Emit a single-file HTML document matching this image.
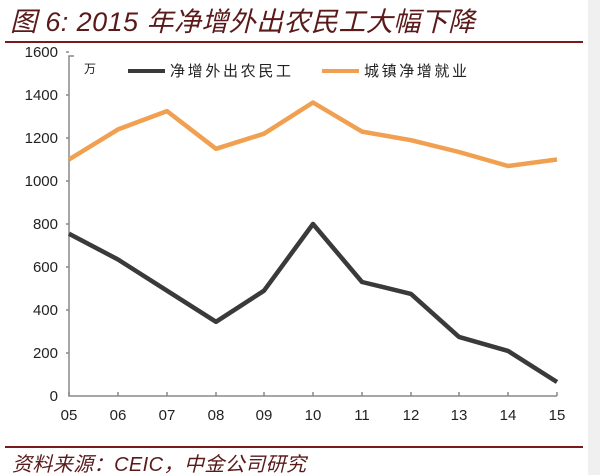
<!DOCTYPE html><html><head><style>body{margin:0;background:#fff}svg{display:block}</style></head><body>
<svg width="600" height="475" xmlns="http://www.w3.org/2000/svg" font-family="Liberation Sans, Noto Sans CJK SC, sans-serif">
<rect width="600" height="475" fill="#fff"/>
<rect x="588" y="0" width="12" height="475" fill="#f0f0f0"/>
<text x="10" y="31" font-size="27" font-style="italic" fill="#5a1a1a" textLength="465">图 6: 2015 年净增外出农民工大幅下降</text>
<line x1="5" y1="42" x2="583" y2="42" stroke="#7a1a1a" stroke-width="2"/>
<line x1="5" y1="447" x2="583" y2="447" stroke="#7a1a1a" stroke-width="2"/>
<text x="12" y="471" font-size="20" font-style="italic" fill="#5a1a1a" textLength="294">资料来源：CEIC，中金公司研究</text>
<g stroke="#888" stroke-width="1.5" fill="none">
<path d="M74 56H69V396H557"/>
<path d="M69 396v-4M118 396v-4M167 396v-4M216 396v-4M264 396v-4M313 396v-4M362 396v-4M411 396v-4M459 396v-4M508 396v-4M557 396v-4"/>
<path d="M69 52h-3M69 95h-3M69 138h-3M69 181h-3M69 224h-3M69 267h-3M69 310h-3M69 353h-3"/>
</g>
<g font-size="15" fill="#222" text-anchor="end">
<text x="58" y="57">1600</text><text x="58" y="100">1400</text><text x="58" y="143">1200</text><text x="58" y="186">1000</text><text x="58" y="229">800</text><text x="58" y="272">600</text><text x="58" y="315">400</text><text x="58" y="358">200</text><text x="58" y="401">0</text>
</g>
<g font-size="15" fill="#222" text-anchor="middle">
<text x="69" y="420">05</text><text x="118" y="420">06</text><text x="167" y="420">07</text><text x="216" y="420">08</text><text x="264" y="420">09</text><text x="313" y="420">10</text><text x="362" y="420">11</text><text x="411" y="420">12</text><text x="459" y="420">13</text><text x="508" y="420">14</text><text x="557" y="420">15</text>
</g>
<text x="84" y="73" font-size="12" fill="#222">万</text>
<line x1="128" y1="71" x2="165" y2="71" stroke="#3a3a3a" stroke-width="4"/>
<text x="170" y="76" font-size="15" fill="#222" textLength="121">净增外出农民工</text>
<line x1="322" y1="71" x2="359" y2="71" stroke="#f0a050" stroke-width="4"/>
<text x="364" y="76" font-size="15" fill="#222" textLength="103">城镇净增就业</text>
<polyline fill="none" stroke="#f0a050" stroke-width="4.5" stroke-linejoin="round" points="69,159.5 118,129.4 167,111.1 216,148.8 264,133.7 313,102.5 362,131.6 411,140.2 459,152 508,166 557,159.5"/>
<polyline fill="none" stroke="#3a3a3a" stroke-width="4.5" stroke-linejoin="round" points="69,233.7 118,259.5 167,290.7 216,321.8 264,290.7 313,224 362,282 411,293.9 459,336.9 508,350.9 557,382"/>
</svg>
</body></html>
